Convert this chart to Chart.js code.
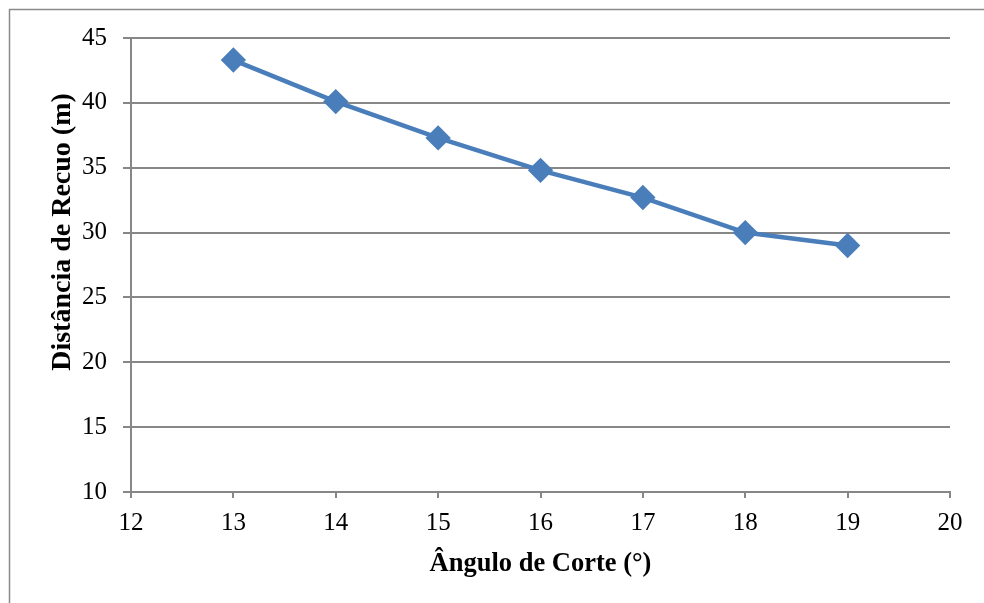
<!DOCTYPE html>
<html>
<head>
<meta charset="utf-8">
<script src="https://cdn.jsdelivr.net/npm/chart.js@4"></script>
<style>
  html, body { margin: 0; padding: 0; background: #fff; }
  #wrap { width: 984px; height: 603px; position: relative; }
</style>
</head>
<body>
<div id="wrap"><canvas id="myChart"></canvas></div>
<script>
  var angulos = [13, 14, 15, 16, 17, 18, 19];
  var distancias = [43.3, 40.1, 37.3, 34.8, 32.7, 30.0, 29.0];
  var xTitulo = 'Ângulo de Corte (°)';
  var yTitulo = 'Distância de Recuo (m)';

  var pontos = [];
  angulos.forEach((a, i) => {
    pontos.push({ x: a, y: distancias[i] });
  });

  var fonte = '"Liberation Serif", "Times New Roman", serif';

  // moldura cinza do gráfico (só topo e esquerda aparecem)
  var moldura = {
    id: 'moldura',
    beforeDraw: function (chart) {
      var ctx = chart.ctx;
      ctx.save();
      ctx.fillStyle = '#fff';
      ctx.fillRect(0, 0, chart.width, chart.height);
      ctx.strokeStyle = '#8a8a8a';
      ctx.lineWidth = 1.5;
      ctx.strokeRect(9.5, 9.5, chart.width + 20, chart.height + 20);
      ctx.restore();
    }
  };

  // título do eixo y, um pouco acima do centro como no original
  var tituloY = {
    id: 'tituloY',
    afterDraw: function (chart) {
      var ctx = chart.ctx;
      var area = chart.chartArea;
      ctx.save();
      ctx.translate(63, (area.top + area.bottom) / 2 - 33);
      ctx.rotate(-Math.PI / 2);
      ctx.font = 'bold 28px ' + fonte;
      ctx.fillStyle = '#000';
      ctx.textAlign = 'center';
      ctx.textBaseline = 'middle';
      ctx.fillText(yTitulo, 0, 0);
      ctx.restore();
    }
  };

  Chart.defaults.font.family = fonte;
  Chart.defaults.color = '#000';

  new Chart('myChart', {
    type: 'line',
    data: {
      datasets: [{
        data: pontos,
        borderColor: '#4a7ebb',
        backgroundColor: '#4a7ebb',
        borderWidth: 4.5,
        pointStyle: 'rectRot',
        pointRadius: 9.5,
        pointHoverRadius: 9.5,
        tension: 0
      }]
    },
    options: {
      responsive: true,
      maintainAspectRatio: false,
      animation: false,
      layout: { padding: { left: 47, top: 38, right: 34, bottom: 23 } },
      plugins: { legend: { display: false }, tooltip: { enabled: false } },
      scales: {
        x: {
          type: 'linear',
          min: 12,
          max: 20,
          ticks: { stepSize: 1, font: { size: 25 }, padding: 10 },
          grid: { drawOnChartArea: false, color: '#878787', lineWidth: 2, tickLength: 6 },
          border: { color: '#878787', width: 2 },
          title: { display: true, text: xTitulo, font: { size: 26.5, weight: 'bold' }, padding: 0 },
          afterFit: function (s) { s.height = 88; }
        },
        y: {
          min: 10,
          max: 45,
          ticks: { stepSize: 5, font: { size: 25 }, padding: 16 },
          grid: { color: '#878787', lineWidth: 2, tickLength: 8 },
          border: { color: '#878787', width: 2 },
          title: { display: false, text: yTitulo },
          afterFit: function (s) { s.width = 84; }
        }
      }
    },
    plugins: [moldura, tituloY]
  });
</script>
</body>
</html>
